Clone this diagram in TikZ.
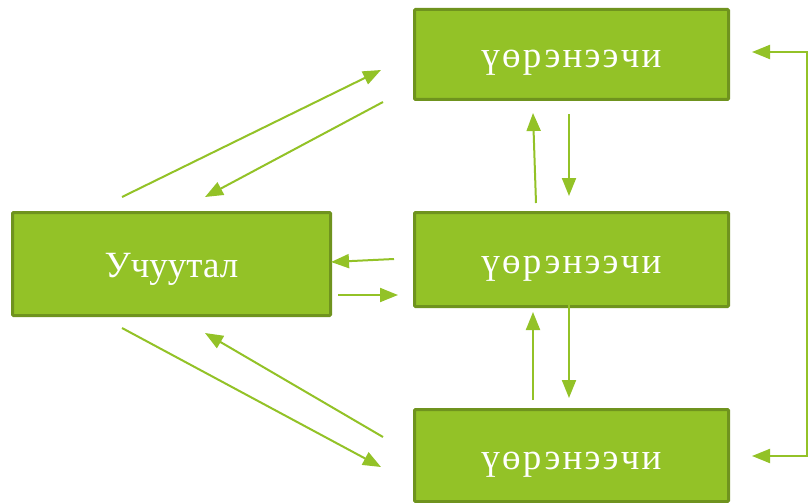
\documentclass[tikz,border=0pt]{standalone}
\usepackage{fontspec}
\setmainfont{Liberation Serif}
\newfontfamily\spacedfont[LetterSpace=6]{Liberation Serif}
\usetikzlibrary{arrows.meta}
\definecolor{boxfill}{HTML}{93C227}
\definecolor{boxline}{HTML}{6F931E}
\definecolor{arr}{HTML}{93C227}
\begin{document}
\begin{tikzpicture}[x=1pt,y=-1pt,
  box/.style={draw=boxline,fill=boxfill,line width=3pt,rounded corners=1pt,inner sep=0pt,
    text=white,font=\fontsize{37}{40}\selectfont,anchor=north west,text height=27pt,text depth=0pt},
  sbox/.style={box,font=\spacedfont\fontsize{37}{40}\selectfont},
  link/.style={draw=arr,line width=2pt,-{Triangle[length=18pt,width=14pt]}},
  both/.style={draw=arr,line width=2pt,{Triangle[length=18pt,width=14pt]}-{Triangle[length=18pt,width=14pt]}}]
\useasboundingbox (0,0) rectangle (809,503);
\node[box,minimum width=318pt,minimum height=103pt] (t) at (11,211) {Учуутал};
\node[sbox,minimum width=314pt,minimum height=90pt] (s1) at (413,8) {үөрэнээчи};
\node[sbox,minimum width=314pt,minimum height=94pt] (s2) at (413,211) {үөрэнээчи};
\node[sbox,minimum width=314pt,minimum height=92pt] (s3) at (413,408) {үөрэнээчи};
% endpoints
\coordinate (a1) at (122,197); \coordinate (a2) at (381,70);
\coordinate (b1) at (383,102); \coordinate (b2) at (205,197);
\coordinate (c1) at (394,259); \coordinate (c2) at (331,262);
\coordinate (d1) at (338,295); \coordinate (d2) at (398,295);
\coordinate (e1) at (122,328); \coordinate (e2) at (381,467);
\coordinate (f1) at (383,437); \coordinate (f2) at (205,333);
\coordinate (g1) at (536,203); \coordinate (g2) at (533,113);
\coordinate (h1) at (569,114); \coordinate (h2) at (569,196);
\coordinate (i1) at (533,400); \coordinate (i2) at (533,312);
\coordinate (j1) at (569,305); \coordinate (j2) at (569,398);
\coordinate (k1) at (752,52); \coordinate (k2) at (752,456);
\draw[link] (a1) -- (a2);
\draw[link] (b1) -- (b2);
\draw[link] (c1) -- (c2);
\draw[link] (d1) -- (d2);
\draw[link] (e1) -- (e2);
\draw[link] (f1) -- (f2);
\draw[link] (g1) -- (g2);
\draw[link] (h1) -- (h2);
\draw[link] (i1) -- (i2);
\draw[link] (j1) -- (j2);
\draw[both] (k1) -- (807,52) -- (807,456) -- (k2);
\end{tikzpicture}
\end{document}
